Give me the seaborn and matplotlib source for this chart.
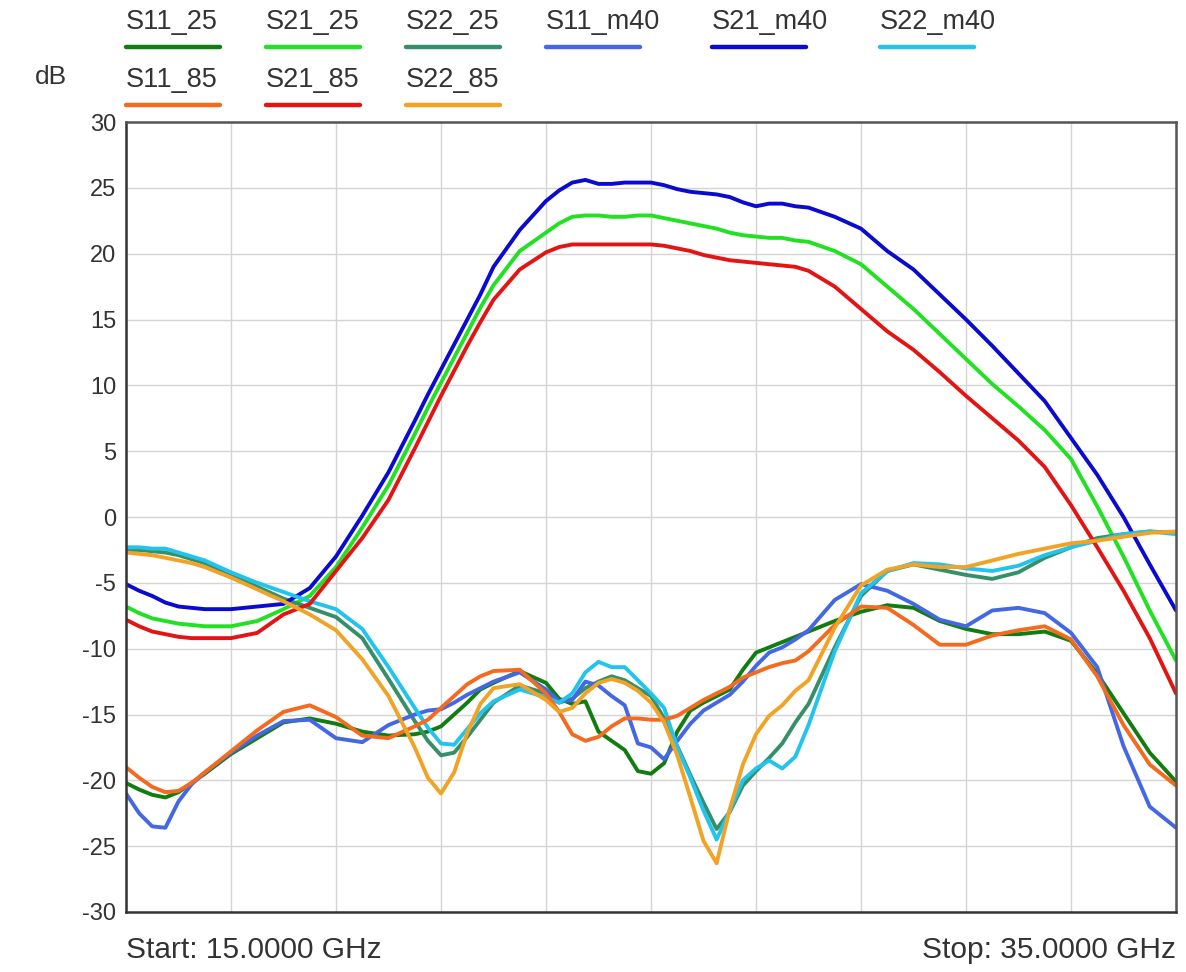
import numpy as np
import pandas as pd
import matplotlib
matplotlib.use("Agg")
import matplotlib.pyplot as plt
from matplotlib.lines import Line2D
import seaborn as sns

# Frequency sweep points (GHz)
freq = [15.0, 15.25, 15.5, 15.75, 16.0, 16.25, 16.5, 17.0, 17.5, 18.0, 18.5, 19.0, 19.5, 20.0,
        20.5, 20.75, 21.0, 21.25, 21.5, 21.75, 22.0, 22.5, 23.0, 23.25, 23.5, 23.75, 24.0, 24.25,
        24.5, 24.75, 25.0, 25.25, 25.5, 25.75, 26.0, 26.25, 26.5, 26.75, 27.0, 27.25, 27.5, 27.75,
        28.0, 28.5, 29.0, 29.5, 30.0, 30.5, 31.0, 31.5, 32.0, 32.5, 33.0, 33.5, 34.0, 34.5, 35.0]

# S-parameters in dB, three temperatures (25 C, -40 C, 85 C)
s11_25 = [-20.2, -20.7, -21.1, -21.3, -20.9, -20.2, -19.5, -18.0, -16.8, -15.6, -15.3, -15.7, -16.3, -16.6,
          -16.5, -16.3, -15.9, -15.0, -14.1, -13.1, -12.6, -11.7, -12.6, -13.8, -14.2, -14.0, -16.3, -17.0,
          -17.7, -19.3, -19.5, -18.7, -16.3, -14.7, -14.1, -13.6, -13.1, -11.6, -10.3, -9.9, -9.5, -9.1,
          -8.7, -7.9, -7.2, -6.7, -6.9, -7.9, -8.5, -8.9, -8.9, -8.7, -9.4, -11.9, -14.9, -17.9, -20.1]
s21_25 = [-6.8, -7.3, -7.7, -7.9, -8.1, -8.2, -8.3, -8.3, -7.9, -7.0, -6.0, -3.8, -0.8, 2.4,
          6.3, 8.3, 10.2, 12.1, 14.0, 15.9, 17.6, 20.2, 21.6, 22.3, 22.8, 22.9, 22.9, 22.8,
          22.8, 22.9, 22.9, 22.7, 22.5, 22.3, 22.1, 21.9, 21.6, 21.4, 21.3, 21.2, 21.2, 21.0,
          20.9, 20.2, 19.2, 17.5, 15.8, 13.9, 12.0, 10.1, 8.4, 6.6, 4.4, 0.8, -3.0, -7.1, -10.9]
s22_25 = [-2.5, -2.5, -2.6, -2.7, -2.9, -3.2, -3.5, -4.4, -5.3, -6.2, -6.9, -7.6, -9.2, -12.3,
          -15.5, -17.0, -18.1, -17.9, -16.7, -15.4, -14.1, -12.8, -13.4, -14.1, -13.8, -13.0, -12.5, -12.1,
          -12.4, -13.0, -13.6, -15.3, -17.4, -19.6, -21.7, -23.7, -22.4, -20.4, -19.3, -18.3, -17.2, -15.6,
          -14.2, -9.9, -6.0, -4.1, -3.6, -4.0, -4.4, -4.7, -4.2, -3.1, -2.3, -1.6, -1.3, -1.1, -1.2]
s11_m40 = [-21.0, -22.5, -23.5, -23.6, -21.6, -20.3, -19.4, -17.9, -16.6, -15.5, -15.4, -16.8, -17.1, -15.8,
           -15.0, -14.7, -14.6, -14.1, -13.5, -13.0, -12.5, -11.8, -13.1, -14.0, -13.9, -12.5, -12.8, -13.6,
           -14.3, -17.2, -17.5, -18.4, -17.0, -15.7, -14.7, -14.1, -13.5, -12.5, -11.3, -10.3, -9.9, -9.3,
           -8.6, -6.3, -5.1, -5.6, -6.6, -7.8, -8.3, -7.1, -6.9, -7.3, -8.8, -11.4, -17.4, -22.0, -23.6]
s21_m40 = [-5.1, -5.6, -6.0, -6.5, -6.8, -6.9, -7.0, -7.0, -6.8, -6.6, -5.4, -3.0, 0.1, 3.4,
           7.3, 9.3, 11.2, 13.1, 15.0, 16.9, 19.0, 21.8, 24.0, 24.8, 25.4, 25.6, 25.3, 25.3,
           25.4, 25.4, 25.4, 25.2, 24.9, 24.7, 24.6, 24.5, 24.3, 23.9, 23.6, 23.8, 23.8, 23.6,
           23.5, 22.8, 21.9, 20.2, 18.8, 16.9, 15.0, 13.0, 10.9, 8.8, 6.0, 3.2, 0.0, -3.6, -7.1]
s22_m40 = [-2.3, -2.3, -2.4, -2.4, -2.7, -3.0, -3.3, -4.2, -5.0, -5.7, -6.4, -7.0, -8.5, -11.4,
           -14.5, -16.0, -17.2, -17.3, -16.1, -14.9, -14.0, -13.1, -13.7, -14.1, -13.4, -11.8, -11.0, -11.4,
           -11.4, -12.4, -13.4, -14.5, -17.5, -19.8, -22.3, -24.5, -22.3, -20.0, -19.1, -18.5, -19.1, -18.2,
           -15.8, -10.2, -5.8, -4.1, -3.5, -3.6, -3.9, -4.1, -3.7, -2.9, -2.3, -1.8, -1.3, -1.1, -1.3]
s11_85 = [-19.0, -19.8, -20.5, -20.9, -20.8, -20.2, -19.4, -17.8, -16.2, -14.8, -14.3, -15.2, -16.6, -16.8,
          -15.9, -15.4, -14.5, -13.6, -12.7, -12.1, -11.7, -11.6, -13.4, -14.8, -16.5, -17.0, -16.7, -15.9,
          -15.3, -15.3, -15.4, -15.4, -15.1, -14.5, -13.9, -13.4, -12.9, -12.2, -11.8, -11.4, -11.1, -10.9,
          -10.2, -8.2, -6.8, -6.9, -8.2, -9.7, -9.7, -9.0, -8.6, -8.3, -9.3, -12.1, -15.8, -18.8, -20.4]
s21_85 = [-7.8, -8.3, -8.7, -8.9, -9.1, -9.2, -9.2, -9.2, -8.8, -7.4, -6.6, -4.1, -1.6, 1.3,
          5.2, 7.2, 9.2, 11.1, 13.0, 14.8, 16.5, 18.8, 20.1, 20.5, 20.7, 20.7, 20.7, 20.7,
          20.7, 20.7, 20.7, 20.6, 20.4, 20.2, 19.9, 19.7, 19.5, 19.4, 19.3, 19.2, 19.1, 19.0,
          18.7, 17.5, 15.8, 14.1, 12.7, 11.0, 9.2, 7.5, 5.8, 3.8, 0.9, -2.3, -5.6, -9.2, -13.4]
s22_85 = [-2.7, -2.8, -2.9, -3.1, -3.3, -3.5, -3.8, -4.6, -5.5, -6.4, -7.4, -8.6, -10.8, -13.6,
          -17.5, -19.8, -21.0, -19.4, -16.4, -14.2, -13.0, -12.7, -13.9, -14.8, -14.5, -13.4, -12.6, -12.3,
          -12.6, -13.2, -14.1, -15.6, -18.1, -21.3, -24.6, -26.3, -22.2, -18.8, -16.5, -15.1, -14.3, -13.2,
          -12.4, -8.4, -5.2, -4.0, -3.6, -3.8, -3.8, -3.3, -2.8, -2.4, -2.0, -1.8, -1.5, -1.2, -1.1]

trace_names = ["S11_25", "S21_25", "S22_25", "S11_m40", "S21_m40", "S22_m40",
               "S11_85", "S21_85", "S22_85"]
trace_values = [s11_25, s21_25, s22_25, s11_m40, s21_m40, s22_m40, s11_85, s21_85, s22_85]
trace_colors = ["#117d11", "#22e022", "#35906a", "#4468e4", "#0a0ad0", "#22c4ee",
                "#f46a1e", "#e31414", "#f2a326"]

y_ticks = [-30, -25, -20, -15, -10, -5, 0, 5, 10, 15, 20, 25, 30]
start_label = "Start: 15.0000 GHz"
stop_label = "Stop: 35.0000 GHz"
unit_label = "dB"

df = pd.concat(
    [pd.DataFrame({"freq": freq, "dB": vals, "trace": name})
     for name, vals in zip(trace_names, trace_values)],
    ignore_index=True,
)

sns.set_theme(style="white")
plt.rcParams["font.family"] = ["Liberation Sans", "DejaVu Sans"]

W, H = 1186, 972
fig = plt.figure(figsize=(W / 100, H / 100), dpi=100)
ax = fig.add_axes([126 / W, 1 - 912 / H, 1050 / W, 790 / H])

palette = dict(zip(trace_names, trace_colors))
sns.lineplot(data=df, x="freq", y="dB", hue="trace", hue_order=trace_names,
             palette=palette, linewidth=2.8, legend=False, ax=ax, sort=False)

ax.set_xlim(15, 35)
ax.set_ylim(-30, 30)
ax.set_xticks(np.arange(15, 35.1, 2))
ax.set_xticklabels([])
ax.set_yticks(y_ticks)
ax.set_yticklabels([str(t) for t in y_ticks], fontsize=17, color="#333333")
ax.tick_params(axis="both", length=0, pad=7)
ax.set_xlabel("")
ax.set_ylabel("")
ax.grid(True, color="#d4d4d4", linewidth=1.0)
ax.set_axisbelow(True)
for side, sp in ax.spines.items():
    sp.set_visible(True)
    sp.set_color("#555555" if side in ("top", "right") else "#333333")
    sp.set_linewidth(1.8)

# Footer text
fig.text(126 / W, 1 - 950 / H, start_label, ha="left", va="center", fontsize=21.5, color="#333333")
fig.text(1176 / W, 1 - 950 / H, stop_label, ha="right", va="center", fontsize=21.5, color="#333333")
fig.text(35 / W, 1 - 77 / H, unit_label, ha="left", va="center", fontsize=19, color="#333333")

# Legend: label above a colour bar, two rows
legend_x = [126, 266, 406, 546, 712, 880, 126, 266, 406]
legend_row = [0, 0, 0, 0, 0, 0, 1, 1, 1]
for name, col, lx, row in zip(trace_names, trace_colors, legend_x, legend_row):
    ty = 22 + 58 * row
    ly = 47 + 58 * row
    fig.text(lx / W, 1 - ty / H, name, ha="left", va="center", fontsize=19.5, color="#333333")
    fig.add_artist(Line2D([lx / W, (lx + 94) / W], [1 - ly / H, 1 - ly / H],
                          color=col, linewidth=3.2, solid_capstyle="round"))

fig.savefig("out.png", dpi=100, facecolor="white")
